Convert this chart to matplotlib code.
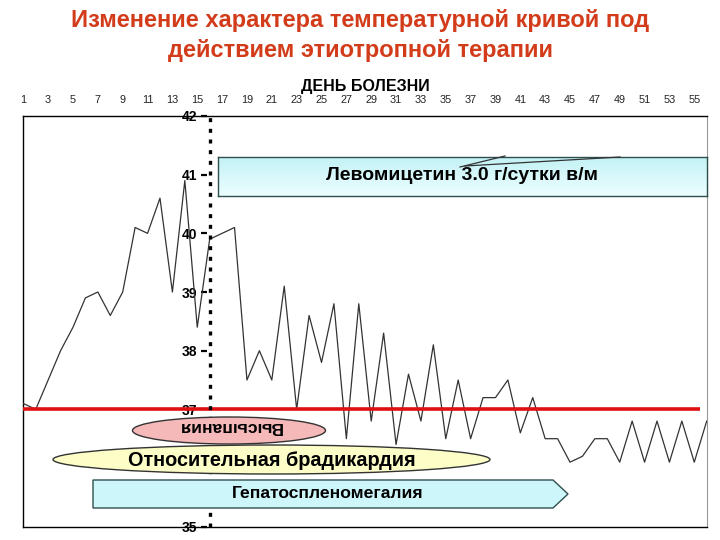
import matplotlib
matplotlib.use("Agg")
import matplotlib.pyplot as plt
import numpy as np
from matplotlib.patches import Ellipse, Polygon

plt.rcParams['font.family'] = ['Liberation Sans', 'DejaVu Sans']

# ---- data ----
days = list(range(1, 57))
temps = [37.1, 37.0, 37.5, 38.0, 38.4, 38.9, 39.0, 38.6, 39.0, 40.1,
         40.0, 40.6, 39.0, 40.9, 38.4, 39.9, 40.0, 40.1, 37.5, 38.0,
         37.5, 39.1, 37.0, 38.6, 37.8, 38.8, 36.5, 38.8, 36.8, 38.3,
         36.4, 37.6, 36.8, 38.1, 36.5, 37.5, 36.5, 37.2, 37.2, 37.5,
         36.6, 37.2, 36.5, 36.5, 36.1, 36.2, 36.5, 36.5, 36.1, 36.8,
         36.1, 36.8, 36.1, 36.8, 36.1, 36.8]
x_tick_days = list(range(1, 56, 2))
y_ticks = [35, 37, 38, 39, 40, 41, 42]
normal_temp = 37.0
therapy_start_day = 16

title = "Изменение характера температурной кривой под\nдействием этиотропной терапии"
x_title = "ДЕНЬ БОЛЕЗНИ"
lbl_drug = "Левомицетин 3.0 г/сутки в/м"
lbl_rash = "Высыпания"
lbl_brady = "Относительная брадикардия"
lbl_hepato = "Гепатоспленомегалия"

W, H = 720, 540
fig = plt.figure(figsize=(7.2, 5.4), dpi=100)


def fx(x):
    return x / W


def fy(y):
    return 1 - y / H


# main axes: day 1 at x=23.3, day 56 at x=706.7; 42 at y=116, 35 at y=526.7
ax = fig.add_axes([fx(23.3), fy(526.7), (706.7 - 23.3) / W, (526.7 - 116) / H])
ax.set_xlim(1, 56)
ax.set_ylim(35, 42)

ax.plot(days, temps, color='#333333', lw=0.9, zorder=3)
ax.plot([1, 55.5], [normal_temp, normal_temp], color='#e01010', lw=2.6, zorder=4,
        solid_capstyle='butt')
ax.axvline(therapy_start_day, color='black', lw=2.4, ls=(0, (1.2, 2.0)), zorder=5)

# spines
for s in ['left', 'top', 'bottom']:
    ax.spines[s].set_color('black')
    ax.spines[s].set_linewidth(1.0)
ax.spines['right'].set_color('#999999')

# top ticks
ax.set_yticks([])
ax.set_xticks(x_tick_days)
ax.set_xticklabels([str(d) for d in x_tick_days])
ax.xaxis.set_ticks_position('top')
ax.xaxis.set_label_position('top')
ax.tick_params(axis='x', length=0, pad=8, labelsize=7.8, labelcolor='#222222')
ax.set_xlabel(x_title, fontsize=11.5, fontweight='bold', labelpad=3)

# inner y axis at the therapy start line
frac = (therapy_start_day - 0.25 - 1) / 55
sec = ax.secondary_yaxis(frac)
sec.spines['left'].set_visible(False)
sec.set_yticks(y_ticks)
sec.set_yticklabels([str(t) for t in y_ticks])
sec.tick_params(axis='y', length=4, width=1.6, pad=3, labelsize=10, direction='out')
for t in sec.get_yticklabels():
    t.set_fontweight('bold')

# title
fig.text(0.5, fy(35.5), title, ha='center', va='center', fontsize=17,
         fontweight='bold', color='#d23c1a', linespacing=1.38)


def grad_box(x0, y0, x1, y1, c_top, c_bot, z=6):
    a = fig.add_axes([fx(x0), fy(y1), (x1 - x0) / W, (y1 - y0) / H], zorder=z)
    c1 = np.array(matplotlib.colors.to_rgb(c_top))
    c2 = np.array(matplotlib.colors.to_rgb(c_bot))
    t = np.linspace(0, 1, 64)[:, None, None]
    img = c1 * (1 - t) + c2 * t
    img = np.repeat(img, 2, axis=1)
    a.imshow(img, aspect='auto', extent=[0, 1, 0, 1])
    a.set_xticks([]); a.set_yticks([])
    for s in a.spines.values():
        s.set_color('#2f4f4f'); s.set_linewidth(1.0)
    return a


# drug box
da = grad_box(218, 157, 707, 196, '#c4f2f6', '#ecfeff')
fig.lines.append(plt.Line2D([fx(460), fx(505)], [fy(167), fy(156)], transform=fig.transFigure,
                            color='#333333', lw=0.9, zorder=8))
fig.lines.append(plt.Line2D([fx(465), fx(620)], [fy(166), fy(157)], transform=fig.transFigure,
                            color='#333333', lw=0.9, zorder=8))
fig.text(fx(462), fy(175), lbl_drug, ha='center', va='center', fontsize=14,
         fontweight='bold', zorder=9)

# rash ellipse (upside-down text)
e1 = Ellipse((fx(229), fy(430.5)), (326 - 133) / W, (444 - 417) / H, transform=fig.transFigure,
             facecolor='#f5b9b9', edgecolor='#333333', lw=1.0, zorder=6)
fig.patches.append(e1)
fig.text(fx(230), fy(427), lbl_rash, ha='center', va='center', fontsize=12.6,
         fontweight='bold', rotation=180, zorder=9)

# bradycardia ellipse
e2 = Ellipse((fx(271.5), fy(459.5)), (490 - 53) / W, (474 - 445) / H, transform=fig.transFigure,
             facecolor='#fdfdc8', edgecolor='#333333', lw=1.0, zorder=6)
fig.patches.append(e2)
fig.text(fx(272), fy(461), lbl_brady, ha='center', va='center', fontsize=14.3,
         fontweight='bold', zorder=9)

# hepatosplenomegaly arrow
pts = [(93, 480), (553, 480), (568, 494), (553, 508), (93, 508)]
poly = Polygon([(fx(x), fy(y)) for x, y in pts], closed=True, transform=fig.transFigure,
               facecolor='#cdf6fa', edgecolor='#2f4f4f', lw=1.0, zorder=6)
fig.patches.append(poly)
fig.text(fx(328), fy(494), lbl_hepato, ha='center', va='center', fontsize=12.6,
         fontweight='bold', zorder=9)

fig.savefig('out.png', dpi=100)
